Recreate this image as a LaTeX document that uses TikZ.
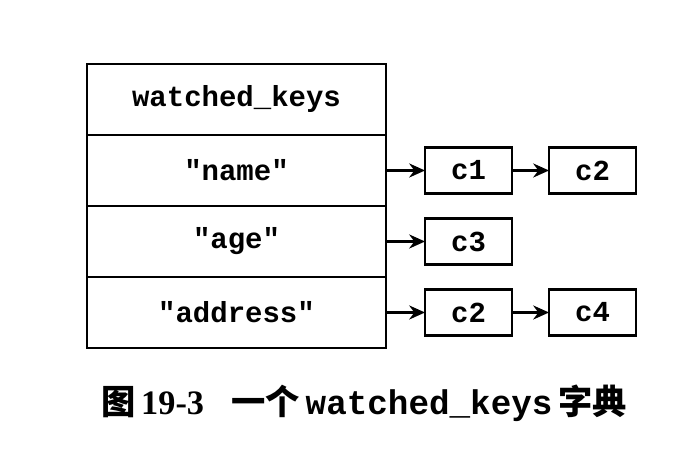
\documentclass[tikz,border=0pt]{standalone}
\usepackage{fontspec}
\setmainfont{Liberation Serif}
\setmonofont{Liberation Mono}
\newfontfamily\cjk{Noto Sans CJK SC}
\usetikzlibrary{positioning,arrows.meta}

\begin{document}
\begin{tikzpicture}[
    row/.style={draw, line width=1.5pt, minimum width=5.98cm, minimum height=1.42cm,
        outer sep=0pt, inner sep=0pt, font=\ttfamily\bfseries\fontsize{16.5}{18}\selectfont},
    cell/.style={draw, line width=1.5pt, minimum width=1.74cm, minimum height=0.92cm,
        outer sep=0pt, inner sep=0pt, font=\ttfamily\bfseries\fontsize{16.5}{18}\selectfont},
    link/.style={-{Stealth[length=9pt,width=8pt]}, line width=1.3pt}
]
    \useasboundingbox (0,0) rectangle (13.68,-9.28);
    % dictionary table
    \node[row] (keys) at (4.73,-1.99) {watched\_keys};
    \node[row, below=0pt of keys] (name) {"name"};
    \node[row, below=0pt of name] (age) {"age"};
    \node[row, below=0pt of age] (address) {"address"};
    % client lists
    \node[cell, right=0.78cm of name] (c1) {c1};
    \node[cell, right=0.74cm of c1] (c2a) {c2};
    \node[cell, right=0.78cm of age] (c3) {c3};
    \node[cell, right=0.78cm of address] (c2b) {c2};
    \node[cell, right=0.74cm of c2b] (c4) {c4};
    \draw[link] (name) -- (c1);
    \draw[link] (c1) -- (c2a);
    \draw[link] (age) -- (c3);
    \draw[link] (address) -- (c2b);
    \draw[link] (c2b) -- (c4);
    % caption
    \node (caption) at (7.28,-8.06) {\fontsize{19.5}{21}\selectfont\cjk\bfseries 图\,{\rmfamily\bfseries 19-3}\hspace{0.8em}一个\,{\ttfamily\bfseries watched\_keys}\,字典};
\end{tikzpicture}
\end{document}
